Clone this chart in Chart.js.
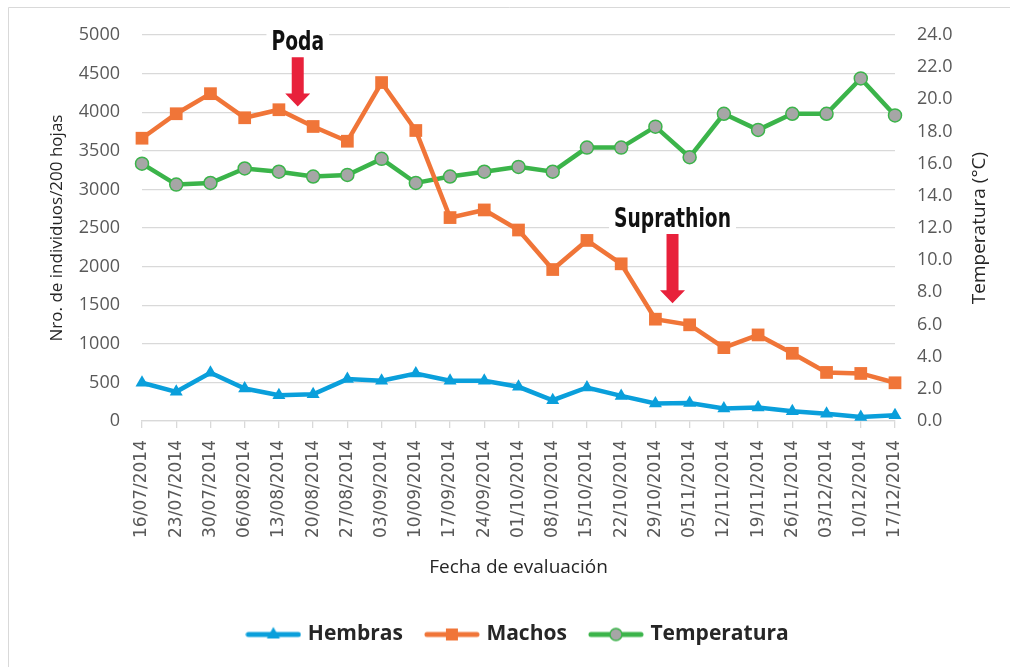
<!DOCTYPE html>
<html>
<head>
<meta charset="utf-8">
<script src="https://cdn.jsdelivr.net/npm/chart.js@4.4.1/dist/chart.umd.min.js"></script>
<style>
  html, body { margin: 0; padding: 0; background: #ffffff; }
  #wrap { position: relative; width: 1010px; height: 667px; }
</style>
</head>
<body>
<div id="wrap"><canvas id="c" width="1010" height="667"></canvas></div>
<script>
// ---- Data ----
const fechas = ["16/07/2014","23/07/2014","30/07/2014","06/08/2014","13/08/2014","20/08/2014","27/08/2014","03/09/2014","10/09/2014","17/09/2014","24/09/2014","01/10/2014","08/10/2014","15/10/2014","22/10/2014","29/10/2014","05/11/2014","12/11/2014","19/11/2014","26/11/2014","03/12/2014","10/12/2014","17/12/2014"];
const hembras = [495, 378, 625, 421, 334, 347, 543, 521, 616, 521, 521, 443, 269, 434, 325, 226, 234, 161, 174, 126, 95, 52, 74];
const machos = [3663, 3980, 4240, 3928, 4032, 3815, 3624, 4384, 3763, 2635, 2734, 2474, 1962, 2339, 2036, 1319, 1246, 950, 1115, 877, 629, 616, 495];
const temperatura = [16.0, 14.7, 14.8, 15.7, 15.5, 15.2, 15.3, 16.3, 14.8, 15.2, 15.5, 15.8, 15.5, 17.0, 17.0, 18.3, 16.4, 19.1, 18.1, 19.1, 19.1, 21.3, 19.0];
const seriesNames = ["Hembras", "Machos", "Temperatura"];
const leftTicks = { min: 0, max: 5000, step: 500 };
const rightTicks = { min: 0, max: 24, step: 2 };
// annotation labels: category position (fractional index) and left-axis values
const annotLabels = ["Poda", "Suprathion"];
const annotX = [4.55, 15.5];
const annotTextY = [4890, 2604];
const annotArrowTop = [4712, 2422];
const annotArrowTip = [4075, 1525];

// ---- Styles ----
const cBlue = '#0A9FDB', cOrange = '#F07538', cGreen = '#3BB44A', cGray = '#A6A6A6';
const gridColor = '#D9D9D9';
const tickColor = '#595959';
const annotFont = 'bold 26px "Liberation Sans Narrow", "DejaVu Sans Condensed", "Roboto", sans-serif';
const annotSquash = 0.8;

function legendIcon(kind) {
  const c = document.createElement('canvas');
  c.width = 56; c.height = 18;
  const g = c.getContext('2d');
  const color = kind === 0 ? cBlue : kind === 1 ? cOrange : cGreen;
  g.strokeStyle = color; g.lineWidth = 5; g.lineCap = 'round';
  g.beginPath(); g.moveTo(3, 9); g.lineTo(53, 9); g.stroke();
  if (kind === 0) {
    g.fillStyle = color; g.beginPath();
    g.moveTo(28, 1.5); g.lineTo(34.5, 13); g.lineTo(21.5, 13); g.closePath(); g.fill();
  } else if (kind === 1) {
    g.fillStyle = color; g.fillRect(22, 3, 12, 12);
  } else {
    g.fillStyle = cGray; g.strokeStyle = color; g.lineWidth = 1.5;
    g.beginPath(); g.arc(28, 9, 6, 0, Math.PI * 2); g.fill(); g.stroke();
  }
  return c;
}
const legendIcons = [legendIcon(0), legendIcon(1), legendIcon(2)];

const framePlugin = {
  id: 'frame',
  beforeDraw(chart) {
    const ctx = chart.ctx;
    ctx.save();
    ctx.fillStyle = '#ffffff';
    ctx.fillRect(0, 0, chart.width, chart.height);
    ctx.strokeStyle = '#D9D9D9'; ctx.lineWidth = 1;
    ctx.beginPath();
    ctx.moveTo(8.5, chart.height); ctx.lineTo(8.5, 7.5); ctx.lineTo(chart.width, 7.5);
    ctx.stroke();
    ctx.restore();
  },
  afterLayout(chart) {
    // shift the centred legend row slightly to the right, like the reference
    if (chart.legend) { chart.legend.left += 28; }
  }
};

const annotPlugin = {
  id: 'annots',
  beforeDatasetsDraw(chart) {
    const ctx = chart.ctx, xs = chart.scales.x, ys = chart.scales.y;
    ctx.save();
    ctx.font = annotFont;
    annotLabels.forEach((t, i) => {
      const x = xs.getPixelForValue(annotX[i]);
      const y = ys.getPixelForValue(annotTextY[i]);
      const w = ctx.measureText(t).width * annotSquash;
      ctx.fillStyle = '#ffffff';
      ctx.fillRect(x - w / 2 - 5, y - 14, w + 10, 28);
    });
    ctx.restore();
  },
  afterDatasetsDraw(chart) {
    const ctx = chart.ctx, xs = chart.scales.x, ys = chart.scales.y;
    annotLabels.forEach((t, i) => {
      const x = xs.getPixelForValue(annotX[i]);
      const ty = ys.getPixelForValue(annotTextY[i]);
      ctx.save();
      ctx.font = annotFont;
      ctx.textAlign = 'center'; ctx.textBaseline = 'middle';
      ctx.fillStyle = '#111111';
      ctx.translate(x, ty);
      ctx.scale(annotSquash, 1);
      ctx.fillText(t, 0, 0);
      ctx.restore();
      const top = ys.getPixelForValue(annotArrowTop[i]);
      const tip = ys.getPixelForValue(annotArrowTip[i]);
      const head = 13;
      ctx.save();
      ctx.fillStyle = '#E8213B';
      ctx.beginPath();
      ctx.moveTo(x - 6, top); ctx.lineTo(x + 6, top); ctx.lineTo(x + 6, tip - head);
      ctx.lineTo(x + 12.5, tip - head); ctx.lineTo(x, tip); ctx.lineTo(x - 12.5, tip - head);
      ctx.lineTo(x - 6, tip - head); ctx.closePath(); ctx.fill();
      ctx.restore();
    });
  },
  afterDraw(chart) {
    const ctx = chart.ctx, a = chart.chartArea;
    ctx.save();
    ctx.font = '19px "Open Sans", sans-serif';
    ctx.fillStyle = '#262626';
    ctx.textAlign = 'center'; ctx.textBaseline = 'middle';
    ctx.translate(980, (a.top + a.bottom) / 2);
    ctx.rotate(-Math.PI / 2);
    ctx.fillText('Temperatura (°C)', 0, 0);
    ctx.restore();
  }
};

new Chart(document.getElementById('c'), {
  type: 'line',
  data: {
    labels: fechas,
    datasets: [
      {
        label: seriesNames[0], data: hembras, yAxisID: 'y',
        borderColor: cBlue, backgroundColor: cBlue, borderWidth: 4.5,
        pointStyle: 'triangle', pointRadius: 7.5, pointBorderWidth: 0,
        pointBackgroundColor: cBlue, tension: 0
      },
      {
        label: seriesNames[1], data: machos, yAxisID: 'y',
        borderColor: cOrange, backgroundColor: cOrange, borderWidth: 4.5,
        pointStyle: 'rect', pointRadius: 9, pointBorderWidth: 0,
        pointBackgroundColor: cOrange, tension: 0
      },
      {
        label: seriesNames[2], data: temperatura, yAxisID: 'y1',
        borderColor: cGreen, backgroundColor: cGray, borderWidth: 4.5,
        pointStyle: 'circle', pointRadius: 6.5, pointBorderWidth: 1.5,
        pointBorderColor: cGreen, pointBackgroundColor: cGray, tension: 0
      }
    ]
  },
  options: {
    responsive: false,
    animation: false,
    layout: { padding: { top: 35, left: 0, right: 0, bottom: 12 } },
    plugins: {
      tooltip: { enabled: false },
      legend: {
        position: 'bottom',
        labels: {
          usePointStyle: true,
          pointStyleWidth: 48,
          padding: 25,
          color: '#262626',
          font: { family: '"Open Sans", sans-serif', size: 21, weight: 'bold' },
          generateLabels(chart) {
            return Chart.defaults.plugins.legend.labels.generateLabels(chart).map((l) => {
              l.pointStyle = legendIcons[l.datasetIndex];
              return l;
            });
          }
        }
      }
    },
    scales: {
      x: {
        type: 'category',
        offset: false,
        afterFit(s) { s.height = 178; },
        grid: { display: true, drawOnChartArea: false, drawTicks: true, tickLength: 7, color: gridColor, lineWidth: 1.3 },
        border: { display: true, color: gridColor, width: 1.3 },
        ticks: {
          autoSkip: false, maxRotation: 90, minRotation: 90, padding: 12,
          color: tickColor, font: { family: '"DejaVu Sans", sans-serif', size: 17 }
        },
        title: {
          display: true, text: 'Fecha de evaluación', color: '#262626',
          font: { family: '"Open Sans", sans-serif', size: 19 },
          padding: { top: 0, bottom: 20 }
        }
      },
      y: {
        position: 'left',
        min: leftTicks.min, max: leftTicks.max,
        afterFit(s) { s.width = 142; },
        grid: { color: gridColor, lineWidth: 1.3, drawTicks: false },
        border: { display: false },
        ticks: {
          stepSize: leftTicks.step, padding: 22, color: tickColor,
          font: { family: '"Open Sans", sans-serif', size: 18 },
          callback: v => String(v)
        },
        title: {
          display: true, text: 'Nro. de individuos/200 hojas', color: '#262626',
          font: { family: '"Open Sans", sans-serif', size: 17 },
          padding: { top: 47, bottom: 0 }
        }
      },
      y1: {
        position: 'right',
        min: rightTicks.min, max: rightTicks.max,
        afterFit(s) { s.width = 115; },
        grid: { display: false, drawOnChartArea: false, drawTicks: false },
        border: { display: false },
        ticks: {
          stepSize: rightTicks.step, padding: 22, color: tickColor,
          font: { family: '"Open Sans", sans-serif', size: 18 },
          callback: v => Number(v).toFixed(1)
        },
        title: { display: false }
      }
    }
  },
  plugins: [framePlugin, annotPlugin]
});
</script>
</body>
</html>
